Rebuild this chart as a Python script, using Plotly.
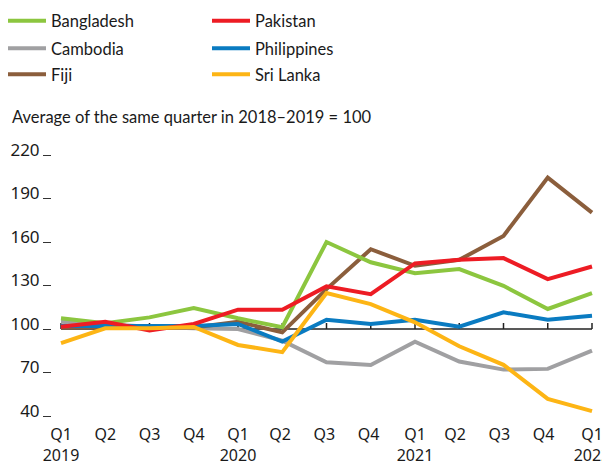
import plotly.graph_objects as go

quarters = ["Q1<br>2019", "Q2", "Q3", "Q4", "Q1<br>2020", "Q2 ", "Q3 ", "Q4 ",
            "Q1<br>2021", "Q2  ", "Q3  ", "Q4  ", "Q1<br>2022"]

bangladesh = [107.4, 104, 108, 114.5, 107.4, 101.2, 160, 146, 138.5, 141.3, 129.8, 113.8, 124.8]
pakistan = [101.6, 105, 99, 103.5, 113.3, 113.3, 129.4, 124, 145.2, 147.7, 148.9, 134.4, 143.1]
cambodia = [105, 103, 101.5, 100.5, 100, 92, 77, 75.2, 91.3, 77.6, 72, 72.5, 85.1]
philippines = [102, 102, 102, 102, 103.5, 91.3, 106.4, 103.4, 106.4, 101.6, 111.5, 106.4, 109.2]
fiji = [101, 101, 101, 101, 105, 97.7, 127.5, 155, 143.6, 147.7, 164.2, 204.4, 180.3]
sri_lanka = [90.2, 100.5, 100.5, 101.4, 89, 84, 124.8, 117.2, 104.6, 88.1, 75.3, 51.8, 43.4]

y_ticks = [40, 70, 100, 130, 160, 190, 220]
baseline = 100
subtitle = "Average of the same quarter in 2018\u20132019 = 100"

# (name, values, colour, legend row, legend rank) in drawing order
series = [
    ("Cambodia", cambodia, "#A0A0A2", "legend2", 1),
    ("Fiji", fiji, "#8B5E3C", "legend3", 1),
    ("Bangladesh", bangladesh, "#8CC63F", "legend", 1),
    ("Philippines", philippines, "#0A7BC1", "legend2", 2),
    ("Pakistan", pakistan, "#ED1C24", "legend", 2),
    ("Sri Lanka", sri_lanka, "#FDB515", "legend3", 2),
]

# the page body has an 8px margin: work in window pixels and subtract it
OFF = 8
W, H = 610 - OFF, 465 - OFF
ML = 52 - OFF
MR = W - (596 - OFF)
MT = 155 - OFF
MB = H - (416 - OFF)
PW, PH = W - ML - MR, H - MT - MB

fig = go.Figure()
for name, vals, col, leg, rank in series:
    fig.add_trace(go.Scatter(
        x=quarters, y=vals, name=name, mode="lines",
        line=dict(color=col, width=4), legend=leg, legendrank=rank,
    ))

# baseline at 100 with small upward ticks at each quarter
shapes = [dict(type="line", xref="x", yref="y", x0=quarters[0], x1=quarters[-1],
               y0=baseline, y1=baseline, line=dict(color="#222222", width=1.5), layer="below")]
for q in quarters:
    shapes.append(dict(type="line", xref="x", yref="y", ysizemode="pixel", yanchor=baseline,
                       x0=q, x1=q, y0=0, y1=6, line=dict(color="#222222", width=1.5),
                       layer="below"))

px_per = (PW - 9 - 4) / (len(quarters) - 1)
xr = [-9 / px_per, len(quarters) - 1 + 4 / px_per]


def legend_row(center_px):
    # center_px: window y of the row's centre; legend left so that line starts at x=10
    top = center_px - OFF - 17
    left = 10 - OFF - 7
    return dict(
        orientation="h", x=(left - ML) / PW, xanchor="left",
        y=(H - MB - top) / PH, yanchor="top",
        entrywidth=151, entrywidthmode="pixels",
        itemwidth=38, font=dict(family="Lato", size=16.5, color="#1a1a1a"),
        traceorder="normal", bgcolor="rgba(0,0,0,0)",
    )


fig.update_layout(
    width=W, height=H,
    margin=dict(l=ML, r=MR, t=MT, b=MB, autoexpand=False),
    paper_bgcolor="white", plot_bgcolor="white",
    font=dict(family="Lato", color="#1a1a1a", size=16),
    shapes=shapes,
    showlegend=True,
    legend=legend_row(20.5),
    legend2=legend_row(48),
    legend3=legend_row(74),
    xaxis=dict(
        type="category", range=xr, showgrid=False, zeroline=False, showline=False,
        ticks="", tickfont=dict(family="Noto Sans", size=16, color="#1a1a1a"),
        ticklabelstandoff=7,
    ),
    yaxis=dict(
        range=[y_ticks[0], y_ticks[-1]], tickvals=y_ticks, showgrid=False, zeroline=False,
        showline=False, ticks="outside", ticklen=8, tickwidth=1, tickcolor="#333333",
        tickfont=dict(family="Noto Sans", size=17, color="#1a1a1a"), ticklabelshift=-5,
    ),
    yaxis2=dict(
        overlaying="y", side="right", range=[y_ticks[0], y_ticks[-1]], tickvals=y_ticks,
        showgrid=False, zeroline=False, showline=False, ticks="outside", ticklen=7,
        tickwidth=1, tickcolor="#333333", showticklabels=False,
    ),
    annotations=[dict(
        text=subtitle, xref="paper", yref="paper", x=(10 - OFF - ML) / PW, xanchor="left",
        y=(H - MB - (117 - OFF)) / PH, yanchor="middle", showarrow=False,
        font=dict(family="Lato", size=16.5, color="#1a1a1a"),
    )],
)

fig.write_html("out.html")
